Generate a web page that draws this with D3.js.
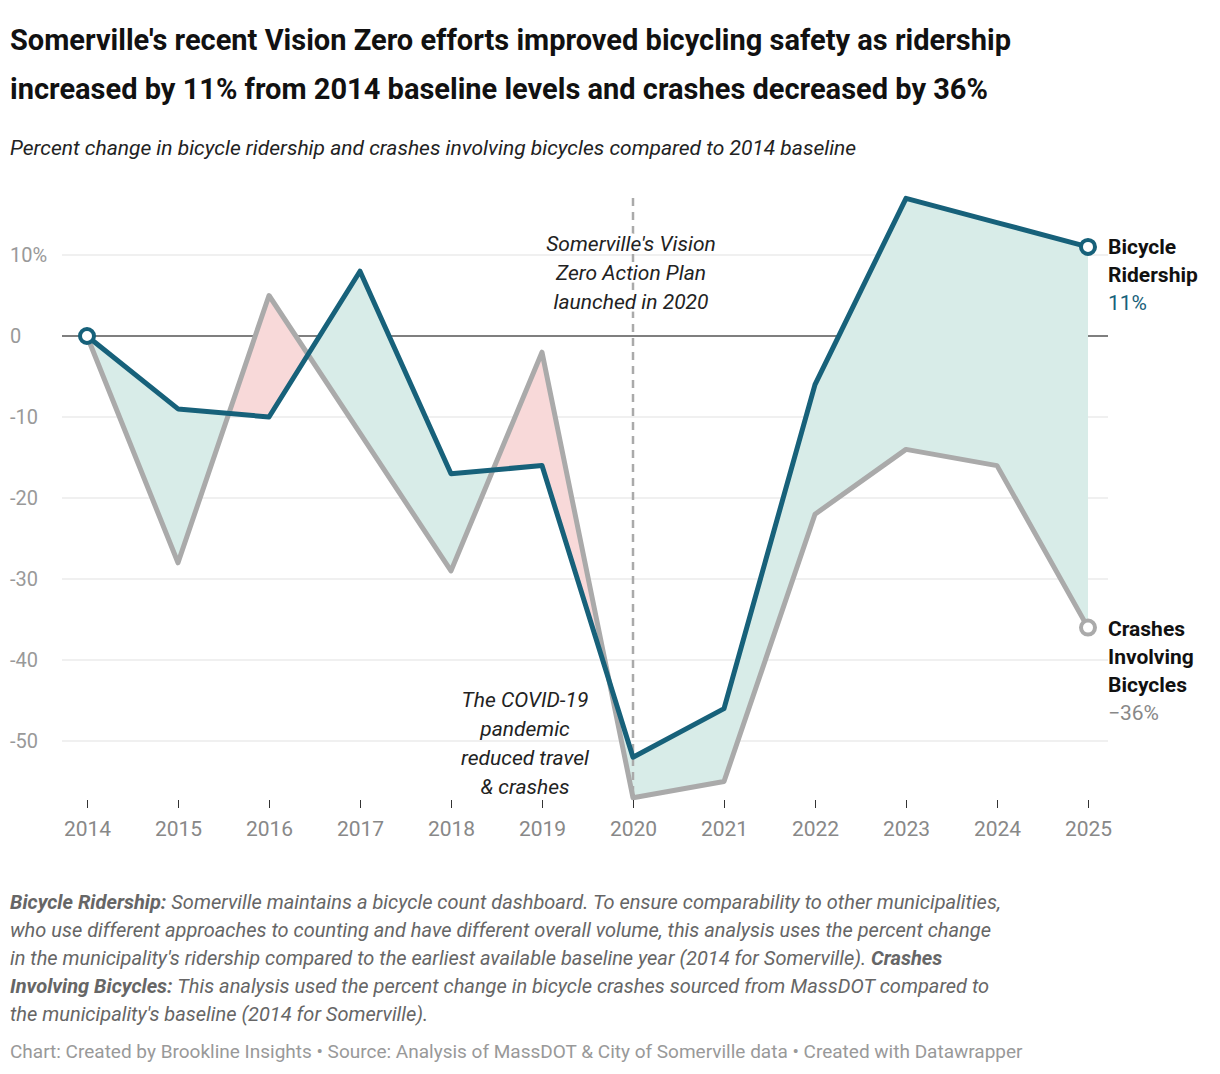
<!DOCTYPE html>
<html><head><meta charset="utf-8">
<script src="https://cdn.jsdelivr.net/npm/d3@7"></script>
<style>
body{margin:0;background:#fff;font-family:Roboto,"Noto Sans",sans-serif;}
svg text{font-family:Roboto,"Noto Sans",sans-serif;}
</style></head><body>
<svg id="chart" width="1220" height="1074"></svg>
<script>
const years = [2014,2015,2016,2017,2018,2019,2020,2021,2022,2023,2024,2025]
const ridership = [0,-9,-10,8,-17,-16,-52,-46,-6,17,14,11]
const crashes = [0,-28,5,-12,-29,-2,-57,-55,-22,-14,-16,-36]
const yTicks = [10,0,-10,-20,-30,-40,-50]

const svg = d3.select('#chart')
const x = d3.scaleLinear().domain([2014,2025]).range([87,1088])
const y = d3.scaleLinear().domain([0,10]).range([336,255])
const data = years.map((yr,i) => ({yr, r: ridership[i], c: crashes[i]}))

svg.append('text').attr('x',10).attr('y',50).attr('font-size',29).attr('font-weight',700).attr('fill','#111')
  .text("Somerville's recent Vision Zero efforts improved bicycling safety as ridership")
svg.append('text').attr('x',10).attr('y',99).attr('font-size',29).attr('font-weight',700).attr('fill','#111')
  .text('increased by 11% from 2014 baseline levels and crashes decreased by 36%')
svg.append('text').attr('x',10).attr('y',155).attr('font-size',21).attr('font-style','italic').attr('fill','#222')
  .text('Percent change in bicycle ridership and crashes involving bicycles compared to 2014 baseline')

// grid
yTicks.forEach(t => {
  svg.append('line').attr('x1',62).attr('x2',1108).attr('y1',y(t)).attr('y2',y(t))
    .attr('stroke', t===0 ? '#000' : '#e2e2e2').attr('stroke-width',1.2)
  svg.append('text').attr('x',10).attr('y',y(t)+7).attr('font-size',20).attr('fill','#999')
    .text(t===10 ? '10%' : t)
})

// fills
const defs = svg.append('defs')
const clipTop = 150, clipBot = 820
defs.append('clipPath').attr('id','above').append('path')
  .attr('d', d3.area().x(d=>x(d.yr)).y0(clipTop).y1(d=>y(d.r))(data))
defs.append('clipPath').attr('id','below').append('path')
  .attr('d', d3.area().x(d=>x(d.yr)).y0(clipBot).y1(d=>y(d.r))(data))
const between = d3.area().x(d=>x(d.yr)).y0(d=>y(d.c)).y1(d=>y(d.r))
svg.append('path').attr('d',between(data)).attr('fill','#f8d9d9').attr('clip-path','url(#above)')
svg.append('path').attr('d',between(data)).attr('fill','#d8ece8').attr('clip-path','url(#below)')

// 2020 marker
svg.append('line').attr('x1',x(2020)).attr('x2',x(2020)).attr('y1',198).attr('y2',800)
  .attr('stroke','#aaa').attr('stroke-width',2.5).attr('stroke-dasharray','8,6')
const ann1 = ["Somerville's Vision","Zero Action Plan","launched in 2020"]
ann1.forEach((s,i)=>svg.append('text').attr('x',x(2020)-2).attr('y',251+i*29).attr('text-anchor','middle')
  .attr('font-size',21).attr('font-style','italic').attr('fill','#222')
  .attr('stroke','#fff').attr('stroke-width',5).attr('paint-order','stroke').text(s))
const ann2 = ['The COVID-19','pandemic','reduced travel','& crashes']
ann2.forEach((s,i)=>svg.append('text').attr('x',525).attr('y',707+i*29).attr('text-anchor','middle')
  .attr('font-size',21).attr('font-style','italic').attr('fill','#222').text(s))

// lines
const line = k => d3.line().x(d=>x(d.yr)).y(d=>y(d[k]))
svg.append('path').attr('d',line('c')(data)).attr('fill','none').attr('stroke','#aaaaaa').attr('stroke-width',5).attr('stroke-linejoin','round')
svg.append('path').attr('d',line('r')(data)).attr('fill','none').attr('stroke','#17617a').attr('stroke-width',5).attr('stroke-linejoin','round')
const pts = [[data[0],'r','#17617a'],[data[11],'c','#aaaaaa'],[data[11],'r','#17617a']]
pts.forEach(([d,k,c])=>svg.append('circle').attr('cx',x(d.yr)).attr('cy',y(d[k])).attr('r',7)
  .attr('fill','#fff').attr('stroke',c).attr('stroke-width',4))

// x axis labels
const xAxis = svg.append('g').attr('transform','translate(0,800)')
  .call(d3.axisBottom(x).tickValues(years).tickFormat(d3.format('d')).tickSize(8))
xAxis.select('.domain').remove()
xAxis.selectAll('line').attr('stroke','#333')
xAxis.selectAll('text').attr('font-size',21).attr('fill','#888').attr('dy','1.2em')

// end labels
const lx = 1108
;['Bicycle','Ridership'].forEach((s,i)=>svg.append('text').attr('x',lx).attr('y',254+i*28).attr('font-size',21).attr('font-weight',700).attr('fill','#111').text(s))
svg.append('text').attr('x',lx).attr('y',310).attr('font-size',21).attr('fill','#17617a').text('11%')
;['Crashes','Involving','Bicycles'].forEach((s,i)=>svg.append('text').attr('x',lx).attr('y',636+i*28).attr('font-size',21).attr('font-weight',700).attr('fill','#111').text(s))
svg.append('text').attr('x',lx).attr('y',720).attr('font-size',21).attr('fill','#888').text('\u221236%')

// notes
const notes = [
  [['b','Bicycle Ridership:'],['n',' Somerville maintains a bicycle count dashboard. To ensure comparability to other municipalities,']],
  [['n','who use different approaches to counting and have different overall volume, this analysis uses the percent change']],
  [['n','in the municipality\'s ridership compared to the earliest available baseline year (2014 for Somerville). '],['b','Crashes']],
  [['b','Involving Bicycles:'],['n',' This analysis used the percent change in bicycle crashes sourced from MassDOT compared to']],
  [['n','the municipality\'s baseline (2014 for Somerville).']]
]
notes.forEach((ln,i)=>{
  const t = svg.append('text').attr('x',10).attr('y',909+i*28).attr('font-size',20).attr('font-style','italic').attr('fill','#666')
  ln.forEach(([w,s])=>t.append('tspan').attr('font-weight',w==='b'?700:400).text(s))
})
svg.append('text').attr('x',10).attr('y',1058).attr('font-size',19).attr('fill','#999')
  .text('Chart: Created by Brookline Insights \u2022 Source: Analysis of MassDOT & City of Somerville data \u2022 Created with Datawrapper')
</script></body></html>
